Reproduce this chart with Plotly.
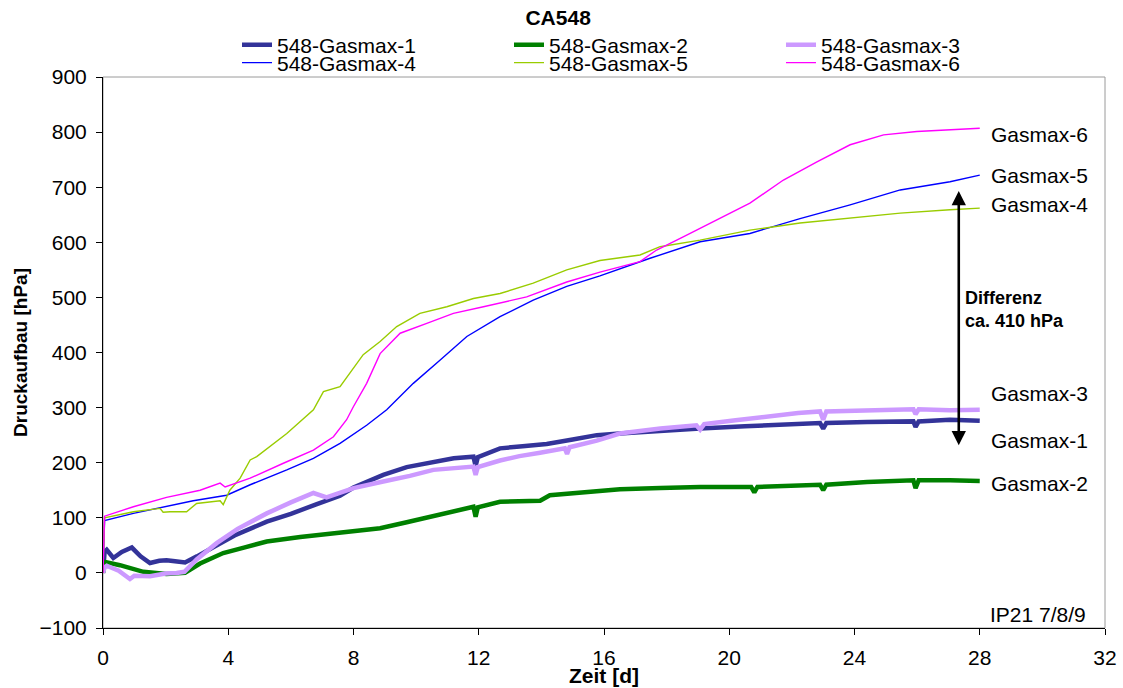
import plotly.graph_objects as go

# ---------------- data ----------------
days1 = [0, 0.05, 0.12, 0.33, 0.6, 0.92, 1.2, 1.5, 1.8, 2.03, 2.3, 2.62, 3.0, 3.63, 4.2, 5.23, 6.0, 6.83,
         7.57, 8.0, 8.95, 9.7, 10.55, 11.2, 11.83, 11.9, 11.97, 12.68, 13.4, 14.17, 15.0, 15.77, 16.5, 17.8,
         19.07, 20.5, 21.8, 22.9, 23.0, 23.1, 24.4, 25.88, 25.95, 26.05, 27.05, 28.0]
vals1 = [0, 38, 42, 27, 38, 46, 30, 18, 22, 23, 21, 19, 30, 51, 68, 93, 107, 125,
         140, 155, 178, 192, 202, 208, 211, 194, 210, 226, 230, 234, 242, 250, 253, 258,
         262, 266, 269, 272, 262, 272, 274, 275, 265, 275, 278, 276]

days2 = [0, 0.05, 0.54, 1.29, 2.03, 2.62, 3.1, 3.84, 4.5, 5.23, 6.3, 7.36, 8.1, 8.85, 9.7, 10.55, 11.2,
         11.83, 11.9, 11.97, 12.68, 13.96, 14.27, 15.2, 16.51, 17.8, 19.07, 20.7, 20.8, 20.9, 22.9, 23.0,
         23.1, 24.4, 25.88, 25.95, 26.05, 27.05, 28.0]
vals2 = [0, 20, 14, 2, -2, 0, 17, 36, 46, 57, 65, 71, 76, 81, 92, 103, 111,
         120, 102, 119, 129, 131, 141, 146, 152, 154, 156, 156, 146, 156, 160, 150,
         160, 165, 168, 154, 168, 168, 167]

days3 = [0, 0.05, 0.12, 0.5, 0.86, 1.0, 1.5, 2.0, 2.35, 2.6, 3.0, 3.63, 4.3, 5.23, 6.0, 6.72, 7.14, 7.5,
         8.0, 8.95, 9.8, 10.55, 11.2, 11.83, 11.9, 11.97, 12.68, 13.3, 13.96, 14.75, 14.82, 14.9, 15.77,
         16.5, 17.8, 18.95, 19.07, 19.2, 20.2, 21.2, 22.2, 22.9, 23.0, 23.1, 24.4, 25.88, 25.95, 26.05,
         27.05, 28.0]
vals3 = [0, 10, 13, 4, -11, -5, -6, -1, 0, 2, 25, 54, 80, 108, 128, 145, 137, 144,
         154, 166, 176, 187, 190, 193, 178, 192, 204, 212, 218, 226, 216, 228, 240,
         253, 262, 268, 260, 270, 277, 284, 290, 293, 278, 293, 295, 297, 288, 297,
         295, 296]

days4 = [0, 0.05, 0.97, 2.03, 2.88, 3.95, 4.7, 5.87, 6.72, 7.57, 8.42, 9.06, 9.49, 9.91, 10.76, 11.62,
         12.68, 13.74, 14.81, 15.87, 17.47, 19.07, 20.66, 22.26, 23.86, 25.46, 27.05, 28.0]
vals4 = [0, 95, 108, 121, 131, 141, 160, 187, 208, 235, 268, 296, 320, 344, 386, 429,
         465, 495, 520, 539, 571, 601, 616, 643, 668, 695, 710, 722]

days5 = [0, 0.05, 0.97, 1.82, 1.92, 2.14, 2.67, 2.99, 3.74, 3.84, 4.05, 4.38, 4.7, 4.91, 5.87, 6.72, 7.04,
         7.57, 8.31, 8.85, 9.38, 10.12, 10.98, 11.83, 12.68, 13.74, 14.81, 15.87, 17.15, 17.79, 19.07,
         20.66, 22.26, 23.86, 25.46, 27.05, 28.0]
vals5 = [0, 100, 111, 117, 110, 111, 111, 126, 131, 124, 150, 172, 205, 211, 253, 296, 329,
         338, 396, 420, 447, 471, 483, 498, 507, 526, 550, 567, 577, 592, 604,
         622, 635, 644, 653, 659, 662]

days6 = [0, 0.05, 0.97, 2.03, 3.1, 3.74, 3.9, 4.7, 5.76, 6.72, 7.36, 7.78, 8.0, 8.42, 8.85, 9.49, 10.34,
         11.19, 12.15, 13.53, 14.81, 15.87, 17.15, 17.68, 18.53, 19.6, 20.66, 21.73, 22.8, 23.86, 24.93,
         25.99, 27.05, 28.0]
vals6 = [0, 103, 120, 137, 150, 163, 156, 172, 199, 223, 247, 278, 302, 344, 398, 435, 453,
         471, 483, 501, 528, 546, 565, 586, 610, 640, 671, 713, 746, 777, 795,
         801, 804, 807]

series_names = ["548-Gasmax-1", "548-Gasmax-2", "548-Gasmax-3",
                "548-Gasmax-4", "548-Gasmax-5", "548-Gasmax-6"]
series_colors = ["#333399", "#008000", "#CC99FF", "#0000FF", "#99CC00", "#FF00FF"]

end_labels = ["Gasmax-6", "Gasmax-5", "Gasmax-4", "Gasmax-3", "Gasmax-1", "Gasmax-2"]
end_label_y = [795, 721, 669, 325, 240, 163]

x_ticks = [0, 4, 8, 12, 16, 20, 24, 28, 32]
y_ticks = [-100, 0, 100, 200, 300, 400, 500, 600, 700, 800, 900]

FONT = "Liberation Sans, Arial, sans-serif"

fig = go.Figure()
all_days = [days1, days2, days3, days4, days5, days6]
all_vals = [vals1, vals2, vals3, vals4, vals5, vals6]
for i in range(6):
    thick = i < 3
    fig.add_trace(go.Scatter(
        x=all_days[i], y=all_vals[i], mode="lines", name=series_names[i],
        line=dict(color=series_colors[i], width=4.5 if thick else 1.4),
        legend="legend" if thick else "legend2",
    ))

for txt, yv in zip(end_labels, end_label_y):
    fig.add_annotation(x=28.3, y=yv, text=txt, showarrow=False, xanchor="left", yanchor="middle",
                       font=dict(family=FONT, size=21, color="black"))

# double arrow
fig.add_annotation(x=27.33, y=693, ax=27.33, ay=229, axref="x", ayref="y", xref="x", yref="y",
                   text="", showarrow=True, arrowhead=2, arrowside="end+start", arrowwidth=2.6,
                   arrowsize=1.1, arrowcolor="black", standoff=0, startstandoff=0)
fig.add_annotation(x=27.47, y=478, text="<b>Differenz<br>ca. 410 hPa</b>", showarrow=False,
                   xanchor="left", yanchor="middle", align="left",
                   font=dict(family=FONT, size=18, color="black"))
fig.add_annotation(xref="paper", x=0.983, y=-75, text="IP21 7/8/9", showarrow=False,
                   xanchor="right", yanchor="middle", font=dict(family=FONT, size=21, color="black"))
# x axis title
fig.add_annotation(xref="paper", yref="paper", x=0.5, y=-47 / 551, text="<b>Zeit [d]</b>",
                   showarrow=False, xanchor="center", yanchor="middle",
                   font=dict(family=FONT, size=21, color="black"))

# plot frame (grey top/right)
fig.add_shape(type="rect", xref="paper", yref="paper", x0=0, y0=0, x1=1, y1=1,
              line=dict(color="#9a9a9a", width=1), layer="below")

legend_common = dict(orientation="h", xref="paper", yref="paper", xanchor="left",
                     yanchor="middle", entrywidth=227, entrywidthmode="pixels",
                     bgcolor="rgba(0,0,0,0)", font=dict(family=FONT, size=21, color="black"),
                     itemwidth=30)

fig.update_layout(
    width=1123, height=688,
    margin=dict(l=103, r=18, t=77, b=60, autoexpand=False),
    paper_bgcolor="white", plot_bgcolor="white",
    font=dict(family=FONT, size=21, color="black"),
    title=dict(text="<b>CA548</b>", x=0.497, xref="container", y=1 - 18 / 688, yref="container",
               xanchor="center", yanchor="middle", font=dict(family=FONT, size=21, color="black")),
    legend=dict(x=(237 - 103) / 1002, y=(628 - 45) / 551, **legend_common),
    legend2=dict(x=(237 - 103) / 1002, y=(628 - 63) / 551, **legend_common),
    showlegend=True,
)
fig.update_xaxes(range=[0, 32], tickvals=x_ticks, ticks="outside", ticklen=6, tickcolor="black",
                 showline=True, linecolor="black", linewidth=1, showgrid=False, zeroline=False,
                 ticklabelstandoff=5,
                 tickfont=dict(family=FONT, size=21, color="black"))
fig.update_yaxes(range=[-100, 900], tickvals=y_ticks, ticks="outside", ticklen=6, tickcolor="black",
                 showline=True, linecolor="black", linewidth=1, showgrid=False, zeroline=False,
                 ticklabelstandoff=5,
                 tickfont=dict(family=FONT, size=21, color="black"),
                 title=dict(text="<b>Druckaufbau [hPa]</b>", standoff=6,
                            font=dict(family=FONT, size=19, color="black")))

fig.write_html("out.html")
